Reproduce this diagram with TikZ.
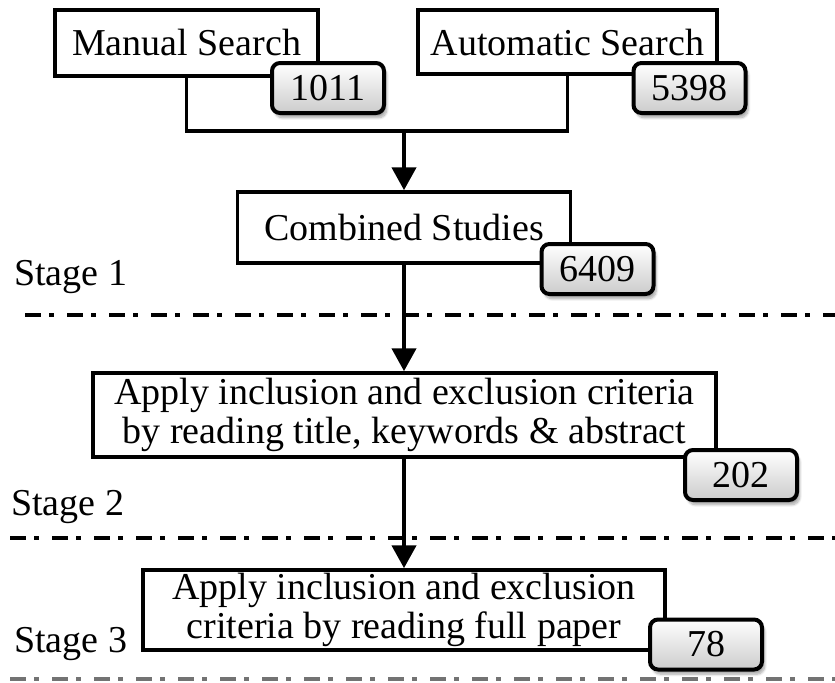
\documentclass[tikz,border=0pt]{standalone}
\usepackage{amsmath}
\usepackage{fontspec}
\setmainfont{Liberation Serif}
\usetikzlibrary{arrows.meta,shadows.blur}

\tikzset{
  txt/.style={font=\fontsize{28.5}{29.5}\selectfont, inner sep=0.75pt},
  stepbox/.style={txt, draw, line width=2.8pt, align=center},
  countbox/.style={txt, draw, line width=3pt, rounded corners=6pt,
    top color=white, bottom color=gray!40, minimum width=84pt, minimum height=37.5pt,
    blur shadow={shadow xshift=2pt, shadow yshift=-3.5pt, shadow blur steps=8, shadow opacity=35}},
  flow/.style={line width=2.8pt, -{Triangle[length=17pt,width=18pt]}},
  link/.style={line width=2.8pt},
  stageline/.style={line width=3.5pt, dash pattern=on 12pt off 6pt on 4pt off 9.5pt}
}

\begin{document}
\begin{tikzpicture}[x=0.75pt,y=0.75pt,yscale=-1,xscale=1]
\useasboundingbox (0,0) rectangle (835,682);

%Boxes
\node [stepbox, minimum width=197.25pt, minimum height=49.5pt] (manual) at (186.5,43) {Manual Search};
\node [stepbox, minimum width=224.25pt, minimum height=48pt] (automatic) at (567.5,42) {Automatic Search};
\node [stepbox, minimum width=249.75pt, minimum height=53.25pt] (combined) at (404,227.5) {Combined Studies};
\node [stepbox, minimum width=467.25pt, minimum height=63pt] (applyone) at (404.5,415) {Apply inclusion and exclusion criteria\\by reading title, keywords \& abstract};
\node [stepbox, minimum width=391.5pt, minimum height=60pt] (applytwo) at (404,610) {Apply inclusion and exclusion\\criteria by reading full paper};

%Connectors
\coordinate (join) at (404,131);
\draw [link] (manual.south) |- (join) -| (automatic.south);
\draw [flow] (join) -- (join |- combined.north);
\draw [flow] (combined.south) -- (combined.south |- applyone.north);
\draw [flow] (combined.south |- applyone.south) -- (combined.south |- applytwo.north);

%Counts
\node [countbox] (nmanual) at (328,88) {1011};
\node [countbox] (nautomatic) at (689.5,88) {5398};
\node [countbox] (ncombined) at (597.5,269) {6409};
\node [countbox] (napplyone) at (741,475) {202};
\node [countbox] (napplytwo) at (706,644.5) {78};

%Stage separators
\draw [stageline] (25,315) -- (835,315);
\draw [stageline] (10,538) -- (835,538);
\draw [stageline, black!55] (10,679) -- (835,679);

% Text Node
\node [txt, anchor=base west] (stageone) at (13,285) {Stage 1};
% Text Node
\node [txt, anchor=base west] (stagetwo) at (10,515) {Stage 2};
% Text Node
\node [txt, anchor=base west] (stagethree) at (13,652) {Stage 3};

\end{tikzpicture}
\end{document}
